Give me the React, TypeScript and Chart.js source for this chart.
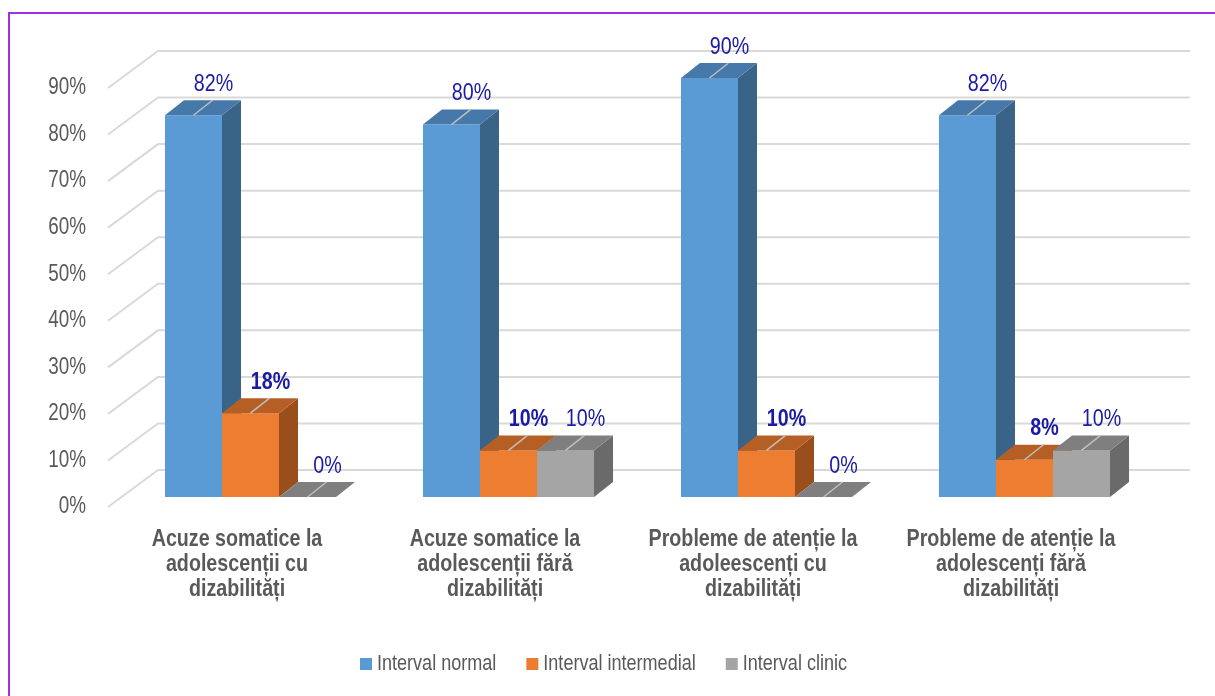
import React, { useEffect, useRef } from "react";
import { Chart, registerables } from "chart.js";

Chart.register(...registerables);

// ---------- DATA ----------
const categories: string[][] = [
  ["Acuze somatice la", "adolescenții cu", "dizabilități"],
  ["Acuze somatice la", "adolescenții fără", "dizabilități"],
  ["Probleme de atenție la", "adoleescenți cu", "dizabilități"],
  ["Probleme de atenție la", "adolescenți fără", "dizabilități"],
];
const seriesNames: string[] = ["Interval normal", "Interval intermedial", "Interval clinic"];
const normalValues: number[] = [0.82, 0.8, 0.9, 0.82];
const intermediateValues: number[] = [0.18, 0.1, 0.1, 0.08];
const clinicValues: number[] = [0, 0.1, 0, 0.1];
const yMin = 0;
const yMax = 0.9;
const yStep = 0.1;

// ---------- STYLE ----------
const FONT = '"Liberation Sans", Arial, sans-serif';
const NARROW = 0.82; // horizontal condensing of text (Arial Narrow look)
const palette = [
  { front: "#5B9BD5", top: "#4678AA", side: "#3A6388" },
  { front: "#ED7D31", top: "#B65F24", side: "#994E1C" },
  { front: "#A5A5A5", top: "#7F7F7F", side: "#6A6A6A" },
];
const TEXT_GREY = "#595959";
const LABEL_BLUE = "#1A1AA3";
const WALL = { dx: 50, dy: -37 };
const BAR_OFF = { dx: 13.5, dy: -10 };
const BAR_DEPTH = { dx: 19, dy: -15 };

function fmtPct(v: number) {
  return Math.round(v * 100) + "%";
}

function poly(ctx: CanvasRenderingContext2D, pts: number[][], color: string) {
  ctx.beginPath();
  ctx.moveTo(pts[0][0], pts[0][1]);
  for (let i = 1; i < pts.length; i++) ctx.lineTo(pts[i][0], pts[i][1]);
  ctx.closePath();
  ctx.fillStyle = color;
  ctx.fill();
}

function narrowText(
  ctx: CanvasRenderingContext2D,
  text: string,
  x: number,
  y: number,
  font: string,
  color: string,
  align: CanvasTextAlign
) {
  ctx.save();
  ctx.font = font;
  ctx.fillStyle = color;
  ctx.textAlign = align;
  ctx.textBaseline = "middle";
  ctx.translate(x, y);
  ctx.scale(NARROW, 1);
  ctx.fillText(text, 0, 0);
  ctx.restore();
}

function barGeom(chart: any, di: number, i: number) {
  const el = chart.getDatasetMeta(di).data[i];
  const p = el.getProps(["x", "y", "base", "width"], true);
  const left = p.x - p.width / 2 + BAR_OFF.dx;
  const right = left + p.width;
  const top = p.y + BAR_OFF.dy;
  const bottom = p.base + BAR_OFF.dy;
  return { left, right, top, bottom, width: p.width };
}

const bars3d = {
  id: "bars3d",
  beforeDatasetsDraw(chart: any) {
    const { ctx, chartArea, scales } = chart;
    const ys = scales.y;
    ctx.save();
    // side wall + back wall gridlines
    ctx.strokeStyle = "#D9D9D9";
    ctx.lineWidth = 2;
    ys.ticks.forEach((t: any) => {
      const py = ys.getPixelForValue(t.value);
      ctx.beginPath();
      ctx.moveTo(chartArea.left, py);
      ctx.lineTo(chartArea.left + WALL.dx, py + WALL.dy);
      ctx.lineTo(chartArea.right + WALL.dx, py + WALL.dy);
      ctx.stroke();
    });
    // 3D bars
    const n = chart.data.labels.length;
    for (let i = 0; i < n; i++) {
      chart.data.datasets.forEach((ds: any, di: number) => {
        const g = barGeom(chart, di, i);
        const pal = palette[di];
        const { left, right, top, bottom } = g;
        if (bottom - top > 0.5) {
          ctx.fillStyle = pal.front;
          ctx.fillRect(left, top, right - left, bottom - top);
          poly(ctx, [[right, top], [right + BAR_DEPTH.dx, top + BAR_DEPTH.dy], [right + BAR_DEPTH.dx, bottom + BAR_DEPTH.dy], [right, bottom]], pal.side);
        }
        poly(ctx, [[left, top], [right, top], [right + BAR_DEPTH.dx, top + BAR_DEPTH.dy], [left + BAR_DEPTH.dx, top + BAR_DEPTH.dy]], pal.top);
        const cx = (left + right) / 2;
        ctx.strokeStyle = "#BFBFBF";
        ctx.lineWidth = 1.5;
        ctx.beginPath();
        ctx.moveTo(cx, top);
        ctx.lineTo(cx + BAR_DEPTH.dx, top + BAR_DEPTH.dy);
        ctx.stroke();
      });
    }
    ctx.restore();
    return false;
  },
  afterDraw(chart: any) {
    const { ctx, chartArea, scales } = chart;
    const xs = scales.x;
    const ys = scales.y;
    ctx.save();
    // y tick labels
    ys.ticks.forEach((t: any) => {
      narrowText(ctx, fmtPct(t.value), chartArea.left - 22, ys.getPixelForValue(t.value), `23px ${FONT}`, TEXT_GREY, "right");
    });
    // x category labels
    (chart.data.labels as string[][]).forEach((lines, i) => {
      const cx = xs.getPixelForValue(i);
      lines.forEach((ln, k) => {
        narrowText(ctx, ln, cx, chartArea.bottom + 32 + k * 25, `bold 24px ${FONT}`, TEXT_GREY, "center");
      });
    });
    // data labels
    const n = chart.data.labels.length;
    for (let i = 0; i < n; i++) {
      chart.data.datasets.forEach((ds: any, di: number) => {
        const g = barGeom(chart, di, i);
        const cx = (g.left + g.right) / 2 + 20;
        const cy = g.top + BAR_DEPTH.dy - 16;
        narrowText(ctx, fmtPct(ds.data[i]), cx, cy, `${di === 1 ? "bold " : ""}24px ${FONT}`, LABEL_BLUE, "center");
      });
    }
    // legend
    const legendFont = `22px ${FONT}`;
    ctx.font = legendFont;
    const box = 12, gap = 5, spacing = 30;
    const items = chart.data.datasets.map((ds: any, di: number) => ({
      label: ds.label,
      color: palette[di].front,
      w: ctx.measureText(ds.label).width * NARROW,
    }));
    const total = items.reduce((s: number, it: any) => s + box + gap + it.w, 0) + spacing * (items.length - 1);
    let x = chart.width / 2 - 4 - total / 2;
    const cy = 664;
    items.forEach((it: any) => {
      ctx.fillStyle = it.color;
      ctx.fillRect(x, cy - 6, box, box);
      narrowText(ctx, it.label, x + box + gap, cy, legendFont, TEXT_GREY, "left");
      x += box + gap + it.w + spacing;
    });
    // outer border
    ctx.strokeStyle = "#A030E0";
    ctx.lineWidth = 2;
    ctx.strokeRect(9, 13, 1400, 900);
    ctx.restore();
  },
};

export default function App() {
  const ref = useRef<HTMLCanvasElement | null>(null);
  useEffect(() => {
    if (!ref.current) return;
    const chart = new Chart(ref.current, {
      type: "bar",
      data: {
        labels: categories,
        datasets: [
          { label: seriesNames[0], data: normalValues, backgroundColor: palette[0].front },
          { label: seriesNames[1], data: intermediateValues, backgroundColor: palette[1].front },
          { label: seriesNames[2], data: clinicValues, backgroundColor: palette[2].front },
        ],
      },
      options: {
        animation: false,
        responsive: true,
        maintainAspectRatio: false,
        devicePixelRatio: 1,
        layout: { padding: { top: 88, right: 75, left: 0, bottom: 0 } },
        datasets: { bar: { categoryPercentage: 0.663, barPercentage: 1 } },
        plugins: { legend: { display: false }, tooltip: { enabled: false } },
        scales: {
          x: {
            grid: { display: false, drawTicks: false },
            border: { display: false },
            ticks: { display: false },
            afterFit(scale: any) {
              scale.height = 189;
            },
          },
          y: {
            min: yMin,
            max: yMax,
            grid: { display: false, drawTicks: false },
            border: { display: false },
            ticks: { stepSize: yStep, display: false },
            afterFit(scale: any) {
              scale.width = 108;
            },
          },
        },
      } as any,
      plugins: [bars3d],
    });
    return () => chart.destroy();
  }, []);
  return (
    <div style={{ position: "absolute", left: 0, top: 0, width: 1215, height: 696, background: "#fff" }}>
      <canvas ref={ref} />
    </div>
  );
}
